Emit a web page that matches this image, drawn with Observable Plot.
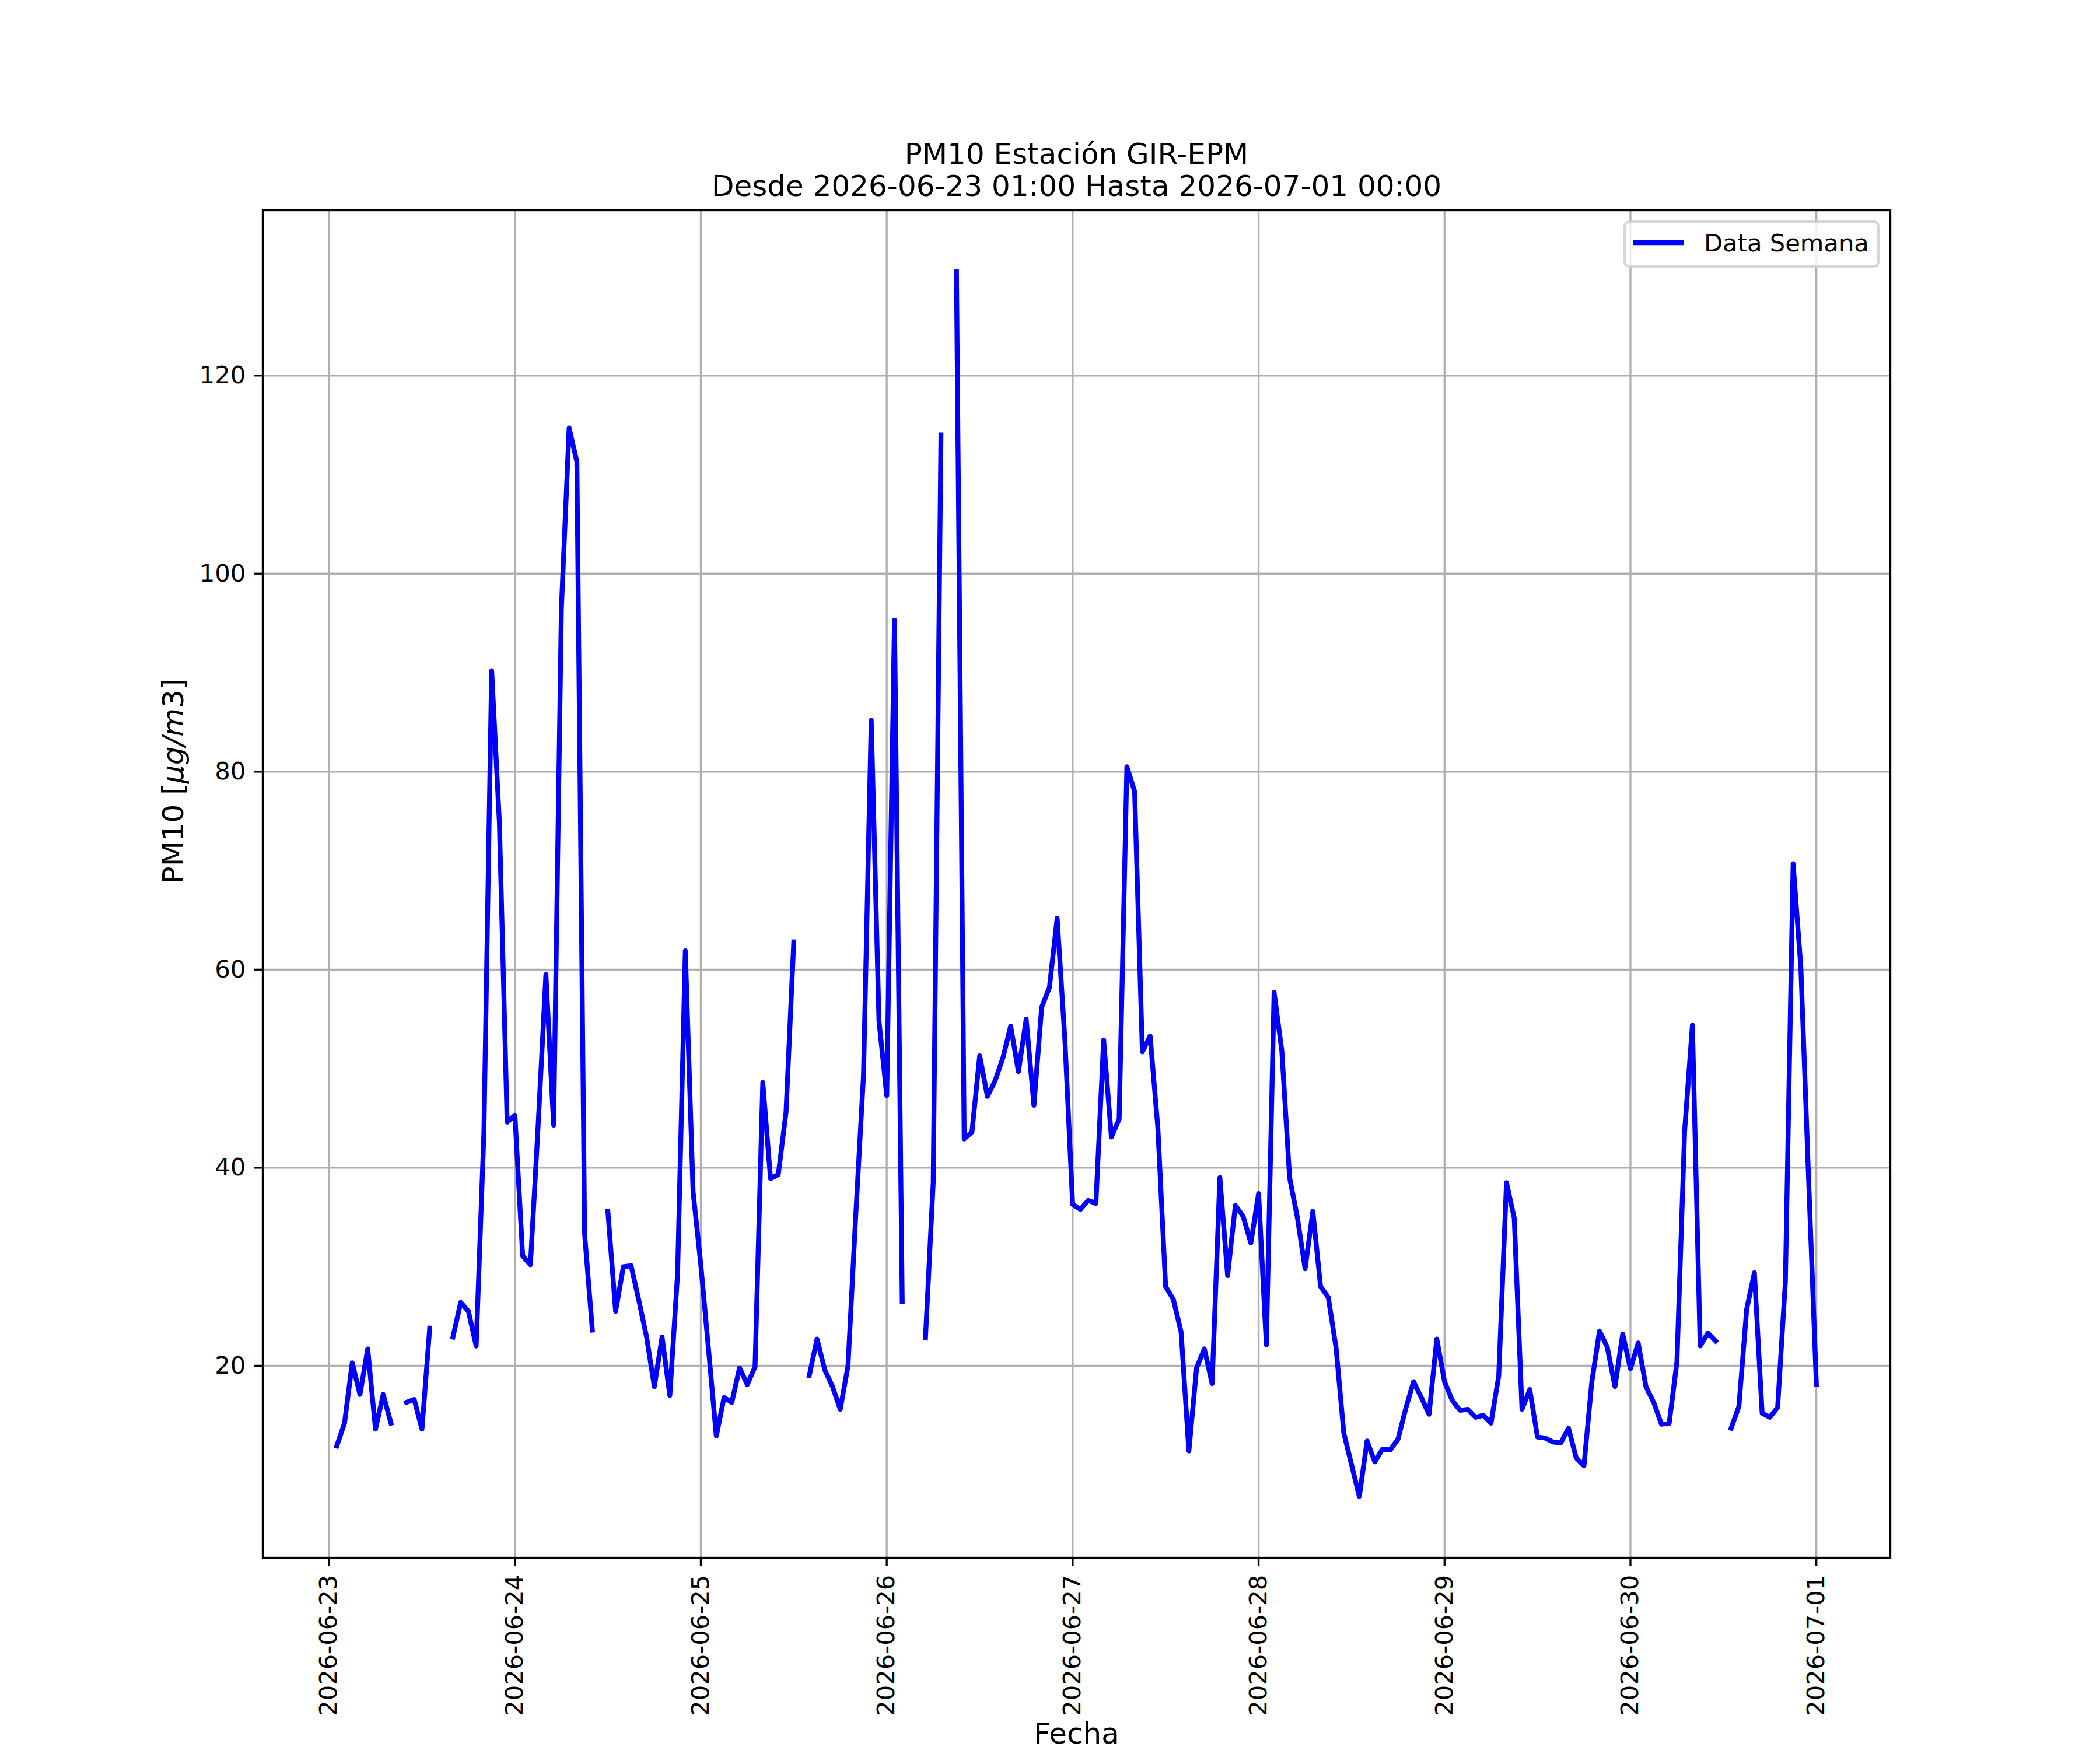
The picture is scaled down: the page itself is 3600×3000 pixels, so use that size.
<!DOCTYPE html>
<html>
<head>
<meta charset="utf-8">
<script src="https://cdn.jsdelivr.net/npm/d3@7"></script>
<script src="https://cdn.jsdelivr.net/npm/@observablehq/plot@0.6"></script>
<style>
  html, body { margin: 0; padding: 0; background: #ffffff; }
  #chart svg { display: block; }
</style>
</head>
<body>
<div id="chart"></div>
<script>
// ---- texts ----
const titleLine1 = "PM10 Estación GIR-EPM";
const titleLine2 = "Desde 2026-06-23 01:00 Hasta 2026-07-01 00:00";
const xLabel = "Fecha";
const yLabel = "PM10 [μg/m3]";
const legendLabel = "Data Semana";

// ---- ticks ----
const xTickLabels = ["2026-06-23", "2026-06-24", "2026-06-25", "2026-06-26", "2026-06-27",
                     "2026-06-28", "2026-06-29", "2026-06-30", "2026-07-01"];
const yTicks = [20, 40, 60, 80, 100, 120];

// ---- hourly PM10 values, first value at 2026-06-23 01:00 (null = no data) ----
const startHour = "2026-06-23T01:00:00Z";
const pm10Day1 = [11.9, 14.2, 20.3, 17.1, 21.7, 13.6, 17.1, 14.2, null, 16.3, 16.6, 13.6,
                  23.8, null, null, 22.9, 26.4, 25.5, 22.0, 43.6, 90.2, 74.8, 44.6, 45.3];
const pm10Day2 = [31.1, 30.2, 44.3, 59.5, 44.3, 96.5, 114.7, 111.3, 33.3, 23.6, null, 35.6,
                  25.5, 30.0, 30.1, 26.6, 22.9, 17.9, 22.9, 17.0, 29.3, 61.9, 37.6, 30.2];
const pm10Day3 = [21.6, 12.9, 16.8, 16.3, 19.8, 18.1, 19.9, 48.6, 38.9, 39.3, 45.6, 62.8,
                  null, 19.0, 22.7, 19.6, 17.9, 15.6, 20.0, 35.2, 49.3, 85.2, 54.8, 47.3];
const pm10Day4 = [95.3, 26.5, null, null, 22.8, 38.5, 114.0, null, 130.5, 42.9, 43.6, 51.3,
                  47.2, 48.8, 51.1, 54.3, 49.7, 55.0, 46.3, 56.2, 58.2, 65.2, 52.9, 36.3];
const pm10Day5 = [35.8, 36.7, 36.4, 52.9, 43.1, 44.9, 80.5, 78.0, 51.7, 53.3, 44.0, 28.0,
                  26.7, 23.4, 11.4, 19.8, 21.7, 18.2, 39.0, 29.1, 36.2, 35.1, 32.4, 37.4];
const pm10Day6 = [22.1, 57.7, 51.8, 39.0, 35.0, 29.8, 35.6, 28.0, 26.9, 21.8, 13.2, 10.0,
                  6.8, 12.4, 10.3, 11.6, 11.5, 12.6, 15.7, 18.4, 16.8, 15.1, 22.7, 18.4];
const pm10Day7 = [16.5, 15.5, 15.6, 14.8, 15.0, 14.2, 19.0, 38.5, 34.9, 15.6, 17.6, 12.8,
                  12.7, 12.3, 12.2, 13.7, 10.7, 9.9, 18.3, 23.5, 21.9, 17.9, 23.2, 19.7];
const pm10Day8 = [22.3, 17.9, 16.3, 14.1, 14.2, 20.4, 43.8, 54.4, 22.0, 23.3, 22.5, null,
                  13.7, 15.9, 25.7, 29.4, 15.2, 14.8, 15.8, 28.5, 70.7, 60.2, 38.8, 18.1];

const values = [].concat(pm10Day1, pm10Day2, pm10Day3, pm10Day4,
                         pm10Day5, pm10Day6, pm10Day7, pm10Day8);
const t0 = new Date(startHour);
const data = values.map((v, i) => ({
  date: new Date(+t0 + i * 3600 * 1000),
  pm10: v == null ? NaN : v
}));

// matplotlib-like 5% margins
const [xMin, xMax] = d3.extent(data, d => d.date);
const xPad = (xMax - xMin) * 0.05;
const [yMin, yMax] = d3.extent(values.filter(v => v != null));
const yPad = (yMax - yMin) * 0.05;

const xTicks = xTickLabels.map(s => new Date(s + "T00:00:00Z"));
const fmt = d3.utcFormat("%Y-%m-%d");

const PT = 300 / 72; // px per point at 300 dpi
const gridStyle = {stroke: "#b0b0b0", strokeOpacity: 1, strokeWidth: 0.8 * PT};

const svg = Plot.plot({
  width: 3600,
  height: 3000,
  marginLeft: 450,
  marginRight: 360,
  marginTop: 360,
  marginBottom: 330,
  style: {fontFamily: "DejaVu Sans", fontSize: "41.67px", color: "black", background: "white", overflow: "visible"},
  x: {type: "utc", domain: [new Date(+xMin - xPad), new Date(+xMax + xPad)]},
  y: {type: "linear", domain: [yMin - yPad, yMax + yPad]},
  marks: [
    Plot.gridX(xTicks, gridStyle),
    Plot.gridY(yTicks, gridStyle),
    Plot.line(data, {
      x: "date", y: "pm10",
      stroke: "#0000ff", strokeWidth: 2 * PT,
      strokeLinecap: "square", strokeLinejoin: "round"
    }),
    Plot.frame({stroke: "black", strokeWidth: 0.8 * PT}),
    Plot.axisX(xTicks, {
      anchor: "bottom", label: null,
      tickFormat: d => fmt(d),
      tickRotate: -90, tickSize: 3.5 * PT, tickPadding: 3.5 * PT,
      fontSize: 41.67, strokeWidth: 0.8 * PT, textAnchor: "end"
    }),
    Plot.axisY(yTicks, {
      anchor: "left", label: null,
      tickSize: 3.5 * PT, tickPadding: 3.5 * PT,
      fontSize: 41.67, strokeWidth: 0.8 * PT
    }),
    Plot.text([titleLine1], {text: d => d, frameAnchor: "top", lineAnchor: "bottom", dy: -80, fontSize: 50}),
    Plot.text([titleLine2], {text: d => d, frameAnchor: "top", lineAnchor: "bottom", dy: -25, fontSize: 50}),
    Plot.text([xLabel], {text: d => d, frameAnchor: "bottom", lineAnchor: "bottom", dy: 318, fontSize: 50}),
    Plot.text([yLabel], {text: d => d, frameAnchor: "left", lineAnchor: "bottom", rotate: -90, dx: -137, fontSize: 50})
  ]
});

// italic math part of the y label
d3.select(svg).selectAll("text").each(function() {
  if (this.textContent === yLabel) {
    const t = d3.select(this);
    t.text(null);
    t.append("tspan").text("PM10 [");
    t.append("tspan").attr("font-style", "italic").text("μg/m");
    t.append("tspan").text("3]");
  }
});

// legend (upper right, matplotlib style)
const lg = d3.select(svg).append("g").attr("class", "legend");
lg.append("rect")
  .attr("x", 2785).attr("y", 380).attr("width", 435).attr("height", 77).attr("rx", 8)
  .attr("fill", "white").attr("fill-opacity", 0.8)
  .attr("stroke", "#cccccc").attr("stroke-opacity", 0.8).attr("stroke-width", 1.0 * PT);
lg.append("line")
  .attr("x1", 2800).attr("x2", 2886).attr("y1", 416).attr("y2", 416)
  .attr("stroke", "#0000ff").attr("stroke-width", 2 * PT).attr("stroke-linecap", "butt");
lg.append("text")
  .attr("x", 2921).attr("y", 431)
  .attr("text-anchor", "start")
  .attr("font-family", "DejaVu Sans").attr("font-size", 41.67).attr("fill", "black")
  .text(legendLabel);

document.getElementById("chart").appendChild(svg);
</script>
</body>
</html>
